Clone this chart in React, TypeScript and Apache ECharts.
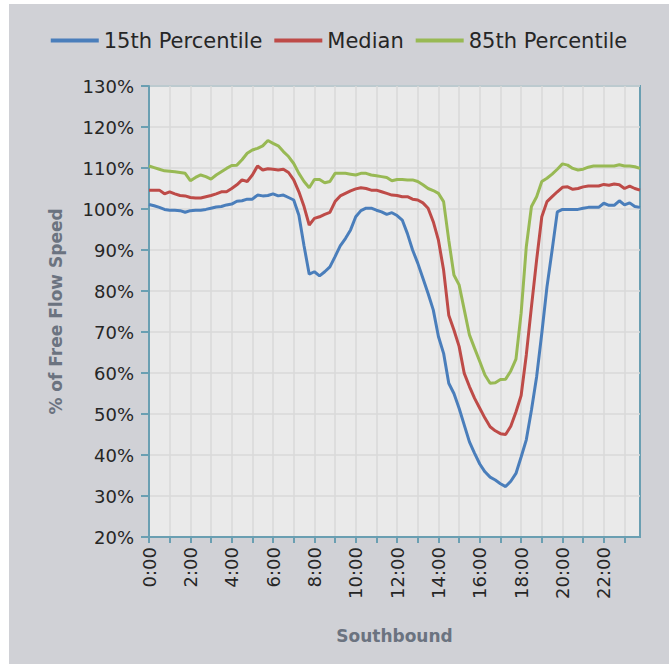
import React, { useEffect, useRef } from "react";
import * as echarts from "echarts";

// 15-minute intervals, 0:00 .. 23:45
const TIMES: string[] = [];
for (let h = 0; h < 24; h++) {
  for (const m of ["00", "15", "30", "45"]) TIMES.push(`${h}:${m}`);
}

const P15 = [
  101.1, 100.8, 100.4, 99.9, 99.7, 99.7, 99.6, 99.2, 99.6, 99.7, 99.7, 99.9, 100.2, 100.5, 100.6, 101.0,
  101.2, 101.9, 102.0, 102.4, 102.4, 103.4, 103.2, 103.3, 103.7, 103.2, 103.4, 102.8, 102.2, 98.5, 91.0, 84.1,
  84.7, 83.7, 84.7, 85.9, 88.4, 91.0, 92.8, 94.9, 98.1, 99.6, 100.2, 100.2, 99.7, 99.3, 98.7, 99.1,
  98.4, 97.3, 94.0, 90.0, 86.8, 83.1, 79.4, 75.4, 68.9, 64.8, 57.5, 55.0, 51.4, 47.3, 43.2, 40.4,
  37.8, 35.9, 34.6, 33.9, 33.0, 32.3, 33.6, 35.5, 39.5, 43.7, 51.0, 59.1, 69.7, 81.0, 90.0, 99.3,
  99.9, 99.9, 99.9, 99.9, 100.2, 100.4, 100.4, 100.4, 101.4, 100.9, 100.9, 102.0, 101.0, 101.5, 100.6, 100.4,
];

const MEDIAN = [
  104.6, 104.6, 104.6, 103.7, 104.2, 103.7, 103.3, 103.2, 102.8, 102.7, 102.7, 103.0, 103.3, 103.7, 104.2, 104.2,
  105.0, 105.9, 107.1, 106.7, 108.3, 110.5, 109.5, 109.8, 109.7, 109.5, 109.7, 108.9, 107.1, 104.2, 100.6, 96.1,
  97.7, 98.1, 98.7, 99.2, 101.8, 103.2, 103.8, 104.4, 104.9, 105.2, 105.0, 104.6, 104.6, 104.2, 103.8, 103.4,
  103.3, 103.0, 103.0, 102.4, 102.2, 101.5, 100.2, 96.9, 92.4, 85.1, 74.1, 70.5, 66.5, 59.9, 56.7, 53.8,
  51.4, 49.0, 46.9, 45.9, 45.2, 45.0, 47.0, 50.5, 54.5, 64.4, 76.2, 87.6, 98.1, 101.8, 103.0, 104.2,
  105.3, 105.4, 104.8, 105.0, 105.4, 105.6, 105.6, 105.6, 106.0, 105.8, 106.1, 105.9, 105.0, 105.6, 105.0, 104.6,
];

const P85 = [
  110.5, 110.1, 109.7, 109.3, 109.2, 109.1, 108.9, 108.7, 106.9, 107.7, 108.3, 107.9, 107.3, 108.3, 109.1, 109.9,
  110.6, 110.7, 112.0, 113.6, 114.4, 114.8, 115.4, 116.7, 116.0, 115.4, 114.0, 112.8, 111.1, 108.7, 106.7, 105.2,
  107.2, 107.2, 106.4, 106.7, 108.7, 108.7, 108.7, 108.5, 108.3, 108.7, 108.7, 108.3, 108.1, 107.9, 107.7, 106.9,
  107.2, 107.2, 107.1, 107.1, 106.7, 105.9, 105.0, 104.5, 103.8, 101.8, 92.4, 83.9, 81.5, 75.4, 69.3, 66.0,
  62.8, 59.5, 57.5, 57.6, 58.4, 58.5, 60.5, 63.4, 74.6, 90.8, 100.6, 103.0, 106.7, 107.5, 108.5, 109.7,
  111.0, 110.7, 109.9, 109.5, 109.7, 110.2, 110.5, 110.5, 110.5, 110.5, 110.5, 110.8, 110.5, 110.5, 110.3, 109.9,
];

const SERIES_NAMES = ["15th Percentile", "Median", "85th Percentile"];
const COLORS = ["#4a7ebb", "#be4b48", "#98b954"];
const Y_MIN = 20;
const Y_MAX = 130;
const Y_STEP = 10;

const FONT = "DejaVu Sans";
const AXIS_COLOR = "#6a9fb2";
const TEXT_COLOR = "#262626";
const TITLE_COLOR = "#6b7380";

export default function App() {
  const ref = useRef<HTMLDivElement>(null);

  useEffect(() => {
    document.body.style.margin = "0";
    if (!ref.current) return;
    const chart = echarts.init(ref.current, undefined, { renderer: "svg" });
    const datasets = [P15, MEDIAN, P85];
    chart.setOption({
      animation: false,
      backgroundColor: "#d0d1d6",
      textStyle: { fontFamily: FONT },
      legend: {
        top: 21,
        left: "center",
        icon: "rect",
        itemWidth: 48,
        itemHeight: 4,
        itemGap: 12,
        textStyle: { fontSize: 21, color: TEXT_COLOR, fontFamily: FONT },
        data: SERIES_NAMES,
      },
      grid: {
        left: 140,
        right: 29,
        top: 82,
        bottom: 127,
        show: true,
        backgroundColor: "#eaeaea",
        borderColor: AXIS_COLOR,
        borderWidth: 2,
      },
      xAxis: {
        type: "category",
        data: TIMES,
        boundaryGap: false,
        axisLine: { lineStyle: { color: AXIS_COLOR, width: 2 } },
        axisTick: { show: true, interval: 3, length: 6, lineStyle: { color: AXIS_COLOR, width: 2 } },
        axisLabel: {
          interval: 7,
          rotate: 90,
          fontSize: 18,
          color: TEXT_COLOR,
          margin: 10,
          fontFamily: FONT,
        },
        splitLine: { show: true, interval: 3, lineStyle: { color: "#d9d9d9", width: 1.5 } },
        name: "Southbound",
        nameLocation: "middle",
        nameGap: 90,
        nameTextStyle: { fontSize: 17, fontWeight: "bold", color: TITLE_COLOR, fontFamily: FONT },
      },
      yAxis: {
        type: "value",
        min: Y_MIN,
        max: Y_MAX,
        interval: Y_STEP,
        axisLine: { show: true, lineStyle: { color: AXIS_COLOR, width: 2 } },
        axisTick: { show: true, length: 8, lineStyle: { color: AXIS_COLOR, width: 2 } },
        axisLabel: {
          formatter: "{value}%",
          fontSize: 18,
          color: TEXT_COLOR,
          margin: 15,
          fontFamily: FONT,
        },
        splitLine: { show: true, lineStyle: { color: "#d9d9d9", width: 1.5 } },
        name: "% of Free Flow Speed",
        nameLocation: "middle",
        nameGap: 85,
        nameTextStyle: { fontSize: 17, fontWeight: "bold", color: TITLE_COLOR, fontFamily: FONT },
      },
      series: SERIES_NAMES.map((name, k) => ({
        name,
        type: "line",
        data: datasets[k],
        showSymbol: false,
        symbol: "none",
        lineStyle: { color: COLORS[k], width: 3 },
        itemStyle: { color: COLORS[k] },
      })),
    });
    return () => chart.dispose();
  }, []);

  return (
    <div style={{ width: 669, height: 664, background: "#ffffff", position: "relative" }}>
      <div
        ref={ref}
        style={{ position: "absolute", left: 9, top: 4, width: 660, height: 660 }}
      />
    </div>
  );
}
